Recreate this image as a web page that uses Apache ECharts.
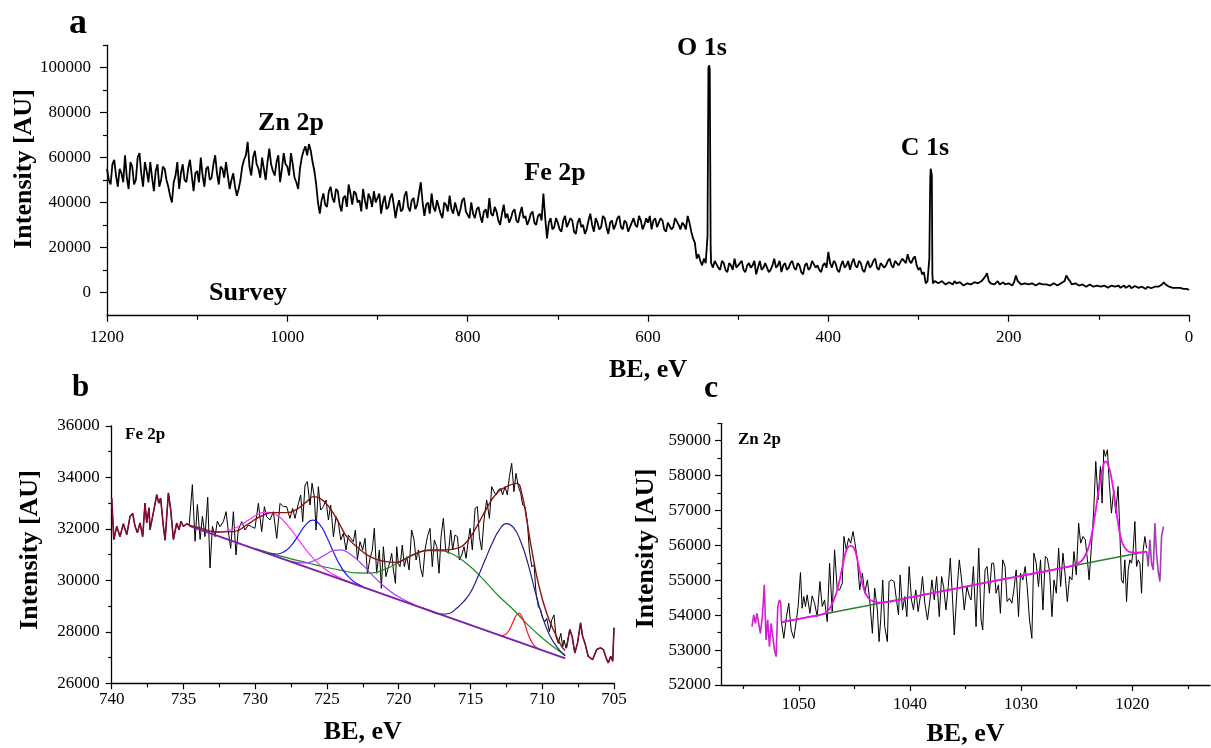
<!DOCTYPE html>
<html lang="en">
<head>
<meta charset="UTF-8">
<title>XPS spectra</title>
<script src="https://cdn.jsdelivr.net/npm/echarts@6/dist/echarts.min.js"></script>
<style>
  html, body { margin: 0; padding: 0; background: #fff; }
  #main { width: 1211px; height: 748px; }
</style>
</head>
<body>
<div id="main"></div>
<script type="text/javascript">
// ---- panel a: survey, counts in thousands, one value every 2 eV from 1200 down to 0
var surveyStartBE = 1200;
var surveyStepBE = 2;
var surveyCountsK = [
  // 1200 .. 1102
  55, 50, 48, 57, 59, 52, 47, 55, 53, 49, 61, 51, 46, 58, 56, 48, 50, 60, 62, 53,
  47, 58, 54, 49, 58, 51, 45, 54, 57, 47, 50, 56, 55, 50, 47, 43, 40, 49, 52, 58,
  46, 53, 57, 50, 49, 55, 59, 52, 45, 53,
  // 1100 .. 1002
  54, 49, 60, 52, 47, 55, 56, 50, 51, 57, 61, 53, 48, 56, 55, 51, 58, 52, 46, 50,
  53, 47, 43, 46, 50, 56, 59, 61, 67, 56, 52, 60, 63, 57, 55, 51, 60, 55, 50, 58,
  64, 57, 54, 52, 58, 61, 49, 55, 62, 57,
  // 1000 .. 902
  56, 52, 62, 57, 51, 49, 46, 55, 60, 63, 65, 61, 66, 63, 58, 54, 48, 40, 35, 41,
  44, 39, 38, 45, 47, 42, 40, 46, 45, 39, 36, 42, 43, 38, 48, 44, 39, 45, 44, 40,
  41, 36, 46, 41, 37, 44, 42, 38, 45, 40,
  // 900 .. 802
  40, 44, 35, 40, 43, 37, 38, 42, 44, 39, 33, 38, 41, 36, 37, 43, 45, 38, 36, 41,
  42, 37, 39, 44, 49, 40, 34, 39, 40, 35, 44, 38, 36, 41, 41, 35, 33, 40, 39, 36,
  43, 37, 35, 40, 40, 34, 37, 41, 42, 36,
  // 800 .. 702
  36, 33, 40, 35, 33, 37, 38, 34, 31, 36, 37, 33, 42, 35, 34, 38, 36, 32, 30, 35,
  39, 33, 35, 31, 33, 36, 37, 32, 31, 35, 38, 33, 34, 30, 32, 35, 36, 31, 30, 34,
  35, 32, 44, 33, 24, 31, 33, 28, 29, 33,
  // 700 .. 602
  31, 28, 27, 32, 34, 29, 29, 33, 32, 27, 26, 31, 33, 29, 30, 26, 28, 32, 35, 30,
  27, 33, 31, 28, 29, 34, 33, 29, 26, 31, 32, 28, 30, 33, 34, 29, 28, 32, 31, 27,
  27, 31, 33, 30, 29, 34, 32, 28, 30, 33,
  // 600 .. 502
  31, 34, 28, 32, 33, 29, 29, 33, 32, 28, 27, 31, 31, 28, 29, 33, 33, 30, 28, 31,
  30, 28, 34, 31, 27, 24, 22, 15, 17, 14, 12, 15, 13, 25, 101, 13, 11, 14, 14, 11,
  10, 14, 13, 10, 9, 13, 12, 10, 15, 11,
  // 500 .. 402
  11, 13, 14, 10, 9, 12, 13, 11, 12, 14, 8, 11, 14, 10, 11, 13, 13, 9, 10, 12,
  15, 11, 12, 14, 9, 12, 13, 10, 11, 13, 14, 11, 10, 13, 12, 9, 8, 12, 13, 10,
  11, 14, 14, 11, 12, 10, 9, 12, 13, 11,
  // 400 .. 302
  18, 13, 11, 14, 13, 10, 9, 12, 14, 11, 12, 14, 10, 13, 15, 12, 11, 14, 13, 10,
  9, 12, 14, 11, 12, 14, 15, 11, 10, 13, 13, 11, 12, 14, 15, 12, 11, 14, 14, 12,
  12, 15, 15, 13, 17, 14, 13, 15, 16, 12,
  // 300 .. 202
  10, 11, 8, 9, 4, 5, 15, 54, 4, 5, 5, 4, 3.5, 5, 4.5, 3.5, 3.5, 4.5, 4, 3.5,
  5, 4, 3.5, 4.5, 4, 3, 3, 4, 4.5, 3.5, 3.5, 4.5, 5, 4, 4, 5, 6, 7, 8.5, 5,
  4, 4.5, 3.5, 4, 5, 3.5, 4, 4.5, 3.5, 4,
  // 200 .. 102
  4, 3.5, 3, 4.5, 7.5, 5, 4.5, 3.5, 3.5, 4, 4.5, 3.5, 3, 4, 4, 3, 3.5, 4, 4.5, 3.5,
  3, 3.5, 4, 3, 3.5, 4, 4, 3, 3, 4, 4.5, 5, 7.5, 6, 5, 3.5, 3, 4, 3.5, 3,
  2.5, 3.5, 4, 2.5, 3, 3.5, 3.5, 2.5, 2.5, 3,
  // 100 .. 0
  3.5, 2.5, 2.5, 3, 3, 2, 2, 3, 3.5, 2.5, 2.5, 3, 2, 2.5, 3, 2, 2.5, 3, 1.8, 2.5,
  2.8, 2, 2, 2.8, 2.5, 1.8, 1.5, 2.5, 2.5, 1.8, 2, 2.5, 3, 2.5, 2, 3.5, 4.5, 3.5, 3.5, 2.5,
  2, 2, 2.5, 2, 1.5, 2, 2, 1.5, 1.5, 1.5, 1
];
// extra points on the narrow O 1s and C 1s lines [BE, counts in thousands]
var surveyPeakPoints = [
  [533, 100], [531.5, 99], [530.5, 20],
  [287, 50], [286.5, 55], [285.2, 52], [284.6, 8]
];

// ---- panel b: Fe 2p
var feEdgeLeft = [
  [740.0, 33200], [739.85, 31590], [739.65, 32100], [739.42, 31700], [739.19, 32200], [738.95, 31780],
  [738.72, 32490], [738.54, 32600], [738.37, 32100], [738.21, 31850], [738.03, 32230], [737.84, 31700],
  [737.68, 33000], [737.56, 32230], [737.4, 32820], [737.33, 31970], [737.1, 32620], [736.86, 33330],
  [736.72, 33000], [736.59, 33200], [736.4, 32100], [736.28, 31560], [736.05, 33400], [735.89, 32750],
  [735.7, 31590], [735.47, 32230], [735.31, 31970], [735.17, 32300], [735.01, 32100], [734.77, 32200],
  [734.6, 32150]
];
var feRaw = [
  [734.38, 33720], [734.19, 31520], [734.03, 32950], [733.84, 31590], [733.68, 32490], [733.5, 31700],
  [733.31, 33230], [733.15, 30480], [732.98, 32100], [732.8, 31700], [732.64, 32300], [732.45, 32087],
  [732.22, 32282], [732.03, 32670], [731.87, 31893], [731.71, 31245], [731.52, 32670], [731.34, 30986],
  [731.18, 31958], [730.94, 32282], [730.71, 31958], [730.48, 32152], [730.25, 32087], [730.02, 32023],
  [729.78, 32994], [729.55, 31893], [729.36, 32865], [729.2, 32476], [728.97, 32346], [728.74, 32670],
  [728.5, 31634], [728.27, 32994], [728.04, 32865], [727.81, 32865], [727.58, 32411], [727.39, 32800],
  [727.23, 32411], [726.99, 32994], [726.83, 33318], [726.69, 32282], [726.53, 33707], [726.37, 33837],
  [726.18, 32929], [726.04, 33772], [725.88, 33254], [725.76, 31958], [725.6, 33642], [725.44, 32735],
  [725.25, 32865], [725.07, 33124], [724.9, 32346], [724.74, 32929], [724.55, 31699], [724.37, 32476],
  [724.21, 32282], [724.04, 31569], [723.86, 31829], [723.67, 31181], [723.51, 31764], [723.35, 31634],
  [723.16, 31505], [723.02, 31958], [722.88, 30792], [722.7, 31505], [722.51, 31181], [722.35, 31634],
  [722.18, 30273], [722.0, 30857], [721.84, 31181], [721.7, 32023], [721.54, 30273], [721.35, 31181],
  [721.21, 29691], [721.07, 31310], [720.89, 30144], [720.72, 30533], [720.61, 30727], [720.49, 31051],
  [720.37, 30403], [720.23, 29885], [720.14, 31311], [720.03, 30662], [719.91, 30533], [719.75, 31375],
  [719.61, 30533], [719.44, 30922], [719.28, 30403], [719.1, 31958], [718.93, 31570], [718.79, 30792],
  [718.63, 31181], [718.47, 30468], [718.33, 30144], [718.17, 31181], [718.0, 31699], [717.82, 32023],
  [717.66, 30533], [717.52, 31570], [717.35, 31311], [717.19, 30274], [717.05, 31699], [716.89, 32411],
  [716.73, 31181], [716.54, 31051], [716.38, 31958], [716.24, 31181], [716.08, 31764], [715.91, 31699],
  [715.77, 30792], [715.61, 30986], [715.45, 31311], [715.31, 30857], [715.15, 31570], [715.03, 32023],
  [714.87, 31181], [714.68, 32800], [714.52, 32865], [714.38, 31699], [714.22, 31181], [714.06, 32346],
  [713.87, 33124], [713.68, 32411], [713.52, 33642], [713.36, 33448], [713.22, 33318], [713.06, 33513],
  [712.89, 33577], [712.76, 33318], [712.59, 33642], [712.43, 33318], [712.29, 34031], [712.13, 34549],
  [711.97, 33448], [711.83, 34160], [711.66, 33642], [711.5, 33383], [711.36, 32929], [711.2, 32865],
  [711.04, 32282], [710.9, 31181], [710.73, 30533], [710.57, 30598], [710.43, 29497], [710.27, 28978],
  [710.11, 28849], [709.97, 28525], [709.81, 28395], [709.69, 28525], [709.5, 28007], [709.34, 28460],
  [709.18, 28655], [709.04, 27812], [708.88, 27553], [708.71, 27942], [708.57, 27424], [708.48, 27683],
  [708.34, 27359]
];
var feEdgeRight = [
  [708.3, 27400], [708.08, 28090], [707.92, 27830], [707.73, 27180], [707.54, 27570], [707.33, 28350],
  [707.19, 27830], [707.03, 27570], [706.8, 27050], [706.49, 26920], [706.21, 27310], [705.93, 27380],
  [705.74, 27310], [705.55, 26990], [705.4, 26790], [705.23, 27050], [705.09, 26860], [705.0, 28160]
];
var feBaseline = [[734.6, 32120], [708.4, 26970]];
var feEnvelope = [
  [734.6, 32150], [733.84, 32040], [732.68, 31880], [731.52, 31893], [730.6, 32152], [729.67, 32476],
  [728.74, 32632], [727.81, 32632], [727.11, 32761], [726.41, 33059], [725.95, 33254], [725.48, 33189],
  [724.79, 32800], [724.09, 32152], [723.63, 31699], [722.93, 31310], [722.0, 30922], [721.0, 30740],
  [720.2, 30700], [719.68, 30792], [718.75, 31051], [717.82, 31181], [716.89, 31181], [715.96, 31245],
  [715.26, 31505], [714.57, 32088], [713.87, 32800], [713.17, 33383], [712.48, 33642], [711.78, 33772],
  [711.43, 33383], [711.08, 32347], [710.73, 31181], [710.27, 29885], [709.69, 28719], [709.11, 27942],
  [708.64, 27424], [708.4, 27280]
];
var fePeakMagenta = [
  [733.0, 31896], [732.5, 31881], [732.0, 31915], [731.5, 32008], [731.0, 32155], [730.5, 32336],
  [730.0, 32510], [729.5, 32630], [729.0, 32647], [728.5, 32536], [728.0, 32299], [727.5, 31969],
  [727.0, 31591], [726.5, 31218], [726.0, 30885], [725.5, 30608], [725.0, 30387], [724.5, 30214],
  [724.0, 30074], [723.5, 29955], [723.0, 29845]
];
var fePeakBlue = [
  [729.0, 31050], [728.5, 31026], [728.0, 31108], [727.5, 31351], [727.0, 31743], [726.5, 32147],
  [726.0, 32341], [725.5, 32166], [725.0, 31664], [724.5, 31043], [724.0, 30505], [723.5, 30135],
  [723.0, 29906], [722.5, 29760]
];
var fePeakViolet = [
  [727.5, 30749], [727.0, 30692], [726.5, 30683], [726.0, 30741], [725.5, 30870], [725.0, 31036],
  [724.5, 31168], [724.0, 31182], [723.5, 31060], [723.0, 30854], [722.5, 30591], [722.0, 30302],
  [721.5, 30018], [721.0, 29760], [720.5, 29541], [720.0, 29360], [719.5, 29210], [719.0, 29081]
];
var fePeakGreen = [
  [730.0, 31234], [729.0, 31068], [728.0, 30912], [727.0, 30765], [726.0, 30629], [725.0, 30502],
  [724.0, 30386], [723.0, 30289], [722.0, 30283], [721.0, 30426], [720.0, 30700], [719.0, 31003],
  [718.0, 31156], [717.0, 31150], [716.5, 31082], [716.0, 30943], [715.0, 30527], [714.0, 29970],
  [713.0, 29373], [712.0, 28857], [711.0, 28270], [710.0, 27763], [709.0, 27327], [708.4, 27110]
];
var fePeakNavy = [
  [719.0, 29053], [718.0, 28856], [717.0, 28690], [716.5, 28712], [716.0, 28903], [715.5, 29165],
  [715.0, 29527], [714.5, 30119], [714.0, 30770], [713.5, 31422], [713.0, 31953], [712.5, 32205],
  [712.0, 32047], [711.5, 31508], [711.0, 30660], [710.5, 29582], [710.0, 28613], [709.5, 27885],
  [709.0, 27427], [708.4, 27060]
];
var fePeakRed = [
  [712.9, 27854], [712.6, 27890], [712.3, 28070], [712.0, 28432], [711.8, 28652], [711.6, 28718],
  [711.4, 28573], [711.2, 28274], [710.9, 27794], [710.6, 27496], [710.3, 27352]
];

// ---- panel c: Zn 2p
var znRaw = [
  [1051.56, 53800], [1051.35, 53339], [1051.11, 53960], [1050.9, 54343], [1050.69, 53578], [1050.45, 53339],
  [1050.21, 53865], [1050.06, 54247], [1049.85, 55223], [1049.7, 54200], [1049.55, 54534], [1049.4, 54247],
  [1049.25, 54582], [1049.0, 54056], [1048.8, 54553], [1048.58, 54343], [1048.34, 53960], [1048.1, 54965],
  [1047.89, 54247], [1047.68, 54439], [1047.44, 53817], [1047.23, 55490], [1046.99, 54104], [1046.78, 55873],
  [1046.54, 54726], [1046.33, 54726], [1046.09, 54917], [1045.94, 56256], [1045.73, 55873], [1045.52, 56208],
  [1045.33, 56064], [1045.12, 56399], [1044.94, 56064], [1044.73, 55586], [1044.52, 54726], [1044.28, 55204],
  [1044.07, 54630], [1043.83, 55012], [1043.62, 54439], [1043.38, 53482], [1043.17, 54774], [1042.93, 54152],
  [1042.78, 53243], [1042.63, 53865], [1042.45, 55012], [1042.27, 53673], [1042.03, 53243], [1041.88, 54965],
  [1041.66, 55012], [1041.42, 54965], [1041.21, 54439], [1041.03, 54008], [1040.88, 55156], [1040.67, 54152],
  [1040.46, 54534], [1040.28, 53960], [1040.07, 55395], [1039.86, 54439], [1039.68, 54152], [1039.47, 54726],
  [1039.26, 54104], [1039.02, 54630], [1038.87, 55108], [1038.66, 54343], [1038.42, 53865], [1038.2, 54439],
  [1038.02, 55012], [1037.81, 54439], [1037.6, 55108], [1037.36, 53960], [1037.15, 55108], [1036.97, 54821],
  [1036.76, 54152], [1036.55, 54821], [1036.37, 55634], [1036.16, 54439], [1036.01, 53434], [1035.77, 54678],
  [1035.56, 55586], [1035.35, 55012], [1035.11, 54152], [1034.87, 54821], [1034.65, 54534], [1034.5, 54438],
  [1034.29, 55395], [1034.05, 53673], [1033.81, 55921], [1033.6, 53864], [1033.45, 53578], [1033.24, 55299],
  [1033.06, 55395], [1032.85, 54630], [1032.64, 55490], [1032.46, 55490], [1032.25, 54630], [1032.04, 54869],
  [1031.86, 54056], [1031.65, 55586], [1031.44, 55395], [1031.26, 54391], [1031.04, 54486], [1030.83, 54343],
  [1030.65, 54725], [1030.44, 55299], [1030.23, 53960], [1030.05, 55203], [1029.84, 55012], [1029.63, 55395],
  [1029.45, 54821], [1029.24, 53864], [1029.03, 53338], [1028.85, 55777], [1028.64, 55490], [1028.43, 54821],
  [1028.25, 55586], [1028.03, 54152], [1027.82, 55682], [1027.64, 55634], [1027.43, 55251], [1027.22, 53960],
  [1027.04, 55012], [1026.83, 54630], [1026.62, 55921], [1026.44, 54821], [1026.23, 55777], [1026.02, 55108],
  [1025.84, 54391], [1025.63, 55108], [1025.42, 55012], [1025.24, 55825], [1025.03, 55155], [1024.82, 56638],
  [1024.64, 56064], [1024.43, 56255], [1024.22, 56160], [1024.03, 55586], [1023.88, 55012], [1023.67, 55968],
  [1023.46, 57020], [1023.28, 58407], [1023.07, 57307], [1022.86, 58263], [1022.71, 57212], [1022.56, 58742],
  [1022.41, 58551], [1022.23, 58742], [1022.08, 57881], [1021.87, 56925], [1021.66, 57594], [1021.48, 56925],
  [1021.27, 57690], [1021.12, 56447], [1020.97, 55012], [1020.81, 54917], [1020.66, 55586], [1020.51, 54391],
  [1020.36, 55299], [1020.21, 55586], [1020.06, 55490], [1019.91, 55873], [1019.76, 56686], [1019.61, 55395],
  [1019.46, 55586], [1019.31, 55490], [1019.16, 54630], [1019.01, 55873], [1018.86, 56255], [1018.71, 55921]
];
var znEdgeLeft = [
  [1054.21, 53673], [1054.06, 54008], [1053.91, 53769], [1053.76, 54056], [1053.61, 54104], [1053.46, 53482],
  [1053.28, 53960], [1053.1, 54869], [1052.95, 53291], [1052.8, 53865], [1052.64, 53100], [1052.49, 53769],
  [1052.34, 53387], [1052.19, 53004], [1052.04, 52813], [1051.89, 54247], [1051.74, 54439], [1051.62, 54343],
  [1051.56, 53800]
];
var znEdgeRight = [
  [1018.7, 55825], [1018.56, 55395], [1018.41, 56160], [1018.26, 55490], [1018.11, 55299], [1017.96, 56638],
  [1017.81, 55777], [1017.66, 55251], [1017.51, 54964], [1017.36, 56255], [1017.18, 56542]
];
var znBaseline = [[1051.56, 53800], [1018.7, 55825]];
var znFit = [
  [1051.56, 53800], [1049.5, 53927], [1048.0, 54020], [1047.44, 54104], [1046.84, 54439], [1046.39, 54917],
  [1045.94, 55586], [1045.63, 55921], [1045.33, 55988], [1045.03, 55921], [1044.73, 55586], [1044.28, 54917],
  [1043.83, 54534], [1043.23, 54391], [1042.63, 54362], [1040.0, 54512], [1035.0, 54820], [1030.0, 55128],
  [1026.0, 55374], [1024.88, 55490], [1024.28, 55682], [1023.82, 56064], [1023.37, 56829], [1022.92, 57786],
  [1022.62, 58264], [1022.4, 58407], [1022.17, 58311], [1021.87, 57929], [1021.57, 57307], [1021.27, 56638],
  [1020.97, 56160], [1020.51, 55873], [1019.76, 55796], [1018.7, 55825]
];

// ---- tick values
var surveyMajorY = [0, 20000, 40000, 60000, 80000, 100000];
var surveyMinorY = [10000, 30000, 50000, 70000, 90000, 110000];
var znMajorY = [52000, 53000, 54000, 55000, 56000, 57000, 58000, 59000];
var znMinorY = [52500, 53500, 54500, 55500, 56500, 57500, 58500, 59500];
var znLabelX = [1020, 1030, 1040, 1050];
var znMinorX = [1015, 1025, 1035, 1045, 1055];

var FONT = '"Liberation Serif", "Times New Roman", serif';

function makeAxis(o) {
    return {
        type: 'value',
        gridIndex: o.grid,
        position: o.position,
        min: o.min,
        max: o.max,
        interval: o.interval,
        inverse: !!o.inverse,
        splitLine: { show: false },
        axisLine: { show: o.line !== false, onZero: false, lineStyle: { color: '#000', width: 1.3 } },
        axisTick: {
            show: true, inside: false, length: o.tick || 6, customValues: o.tickValues,
            lineStyle: { color: '#000', width: 1.2 }
        },
        minorTick: { show: !!o.minor, splitNumber: 2, length: o.minor || 4, lineStyle: { color: '#000', width: 1.2 } },
        axisLabel: {
            show: o.labels !== false, margin: o.margin || 8, customValues: o.labelValues,
            formatter: o.formatter || function (v) { return String(v); },
            color: '#000', fontFamily: FONT, fontSize: 17
        },
        name: o.name || '',
        nameLocation: 'middle',
        nameGap: o.nameGap || 30,
        nameTextStyle: { color: '#000', fontFamily: FONT, fontSize: 26, fontWeight: 'bold' }
    };
}

function line(data, xi, yi, color, width, smooth) {
    return {
        type: 'line', data: data, xAxisIndex: xi, yAxisIndex: yi,
        showSymbol: false, symbol: 'none', smooth: smooth || false, silent: true,
        lineStyle: { color: color, width: width }
    };
}

function label(text, x, y, size, align, rot) {
    return {
        type: 'text', x: x, y: y, rotation: rot || 0, silent: true,
        style: {
            text: text, font: 'bold ' + size + 'px ' + FONT, fill: '#000',
            align: align || 'center', verticalAlign: 'middle',
            textAlign: align || 'center', textVerticalAlign: 'middle'
        }
    };
}

var surveyData = surveyCountsK.map(function (v, i) {
    return [surveyStartBE - i * surveyStepBE, v * 1000];
}).concat(surveyPeakPoints.map(function (p) {
    return [p[0], p[1] * 1000];
})).sort(function (a, b) { return b[0] - a[0]; });

var myChart = echarts.init(document.getElementById('main'), null, { renderer: 'canvas' });
var option = {
    animation: false,
    backgroundColor: '#fff',
    grid: [
        { left: 107, top: 45.2, width: 1082, height: 269.6 },
        { left: 111.7, top: 426, width: 502.3, height: 257.3 },
        { left: 721, top: 423.3, width: 489, height: 261.7 }
    ],
    xAxis: [
        makeAxis({ grid: 0, position: 'bottom', min: 0, max: 1200, interval: 200, inverse: true, tick: 7, minor: 5,
                   margin: 14, name: 'BE, eV', nameGap: 42 }),
        makeAxis({ grid: 1, position: 'bottom', min: 705, max: 740, interval: 5, inverse: true, tick: 6, minor: 4,
                   margin: 8, name: 'BE, eV', nameGap: 36 }),
        makeAxis({ grid: 2, position: 'bottom', min: 1013, max: 1057, interval: 5, inverse: true, tick: 6,
                   tickValues: znLabelX, labelValues: znLabelX, margin: 11, name: 'BE, eV', nameGap: 36 }),
        makeAxis({ grid: 2, position: 'bottom', min: 1013, max: 1057, interval: 5, inverse: true, tick: 4,
                   tickValues: znMinorX, line: false, labels: false })
    ],
    yAxis: [
        makeAxis({ grid: 0, position: 'left', min: -10000, max: 110000, interval: 10000, tick: 7, margin: 16,
                   tickValues: surveyMajorY, labelValues: surveyMajorY,
                   formatter: function (v) { return (v >= 0 && v % 20000 === 0) ? String(v) : ''; } }),
        makeAxis({ grid: 0, position: 'left', min: -10000, max: 110000, interval: 10000, tick: 4,
                   tickValues: surveyMinorY, line: false, labels: false }),
        makeAxis({ grid: 1, position: 'left', min: 26000, max: 36000, interval: 2000, tick: 6, minor: 3.5, margin: 12 }),
        makeAxis({ grid: 2, position: 'left', min: 52000, max: 59500, interval: 500, tick: 6, margin: 10,
                   tickValues: znMajorY, labelValues: znMajorY,
                   formatter: function (v) { return v % 1000 === 0 ? String(v) : ''; } }),
        makeAxis({ grid: 2, position: 'left', min: 52000, max: 59500, interval: 500, tick: 3.5,
                   tickValues: znMinorY, line: false, labels: false })
    ],
    series: [
        line(surveyData, 0, 0, '#000', 1.8),

        line(feEdgeLeft.concat(feRaw, feEdgeRight), 1, 2, '#000', 1),
        line(fePeakGreen, 1, 2, '#1a8a1a', 1.2, true),
        line(fePeakMagenta, 1, 2, '#ff33ff', 1.2, true),
        line(fePeakBlue, 1, 2, '#1a1aff', 1.2, true),
        line(fePeakViolet, 1, 2, '#a040ff', 1.2, true),
        line(fePeakNavy, 1, 2, '#20208f', 1.2, true),
        line(fePeakRed, 1, 2, '#ff1a1a', 1.2, true),
        line(feBaseline, 1, 2, '#7a1fa8', 2),
        line(feEnvelope, 1, 2, '#8b1010', 1.4, true),
        line(feEdgeLeft, 1, 2, '#820c30', 1.6),
        line(feEdgeRight, 1, 2, '#820c30', 1.6),

        line(znRaw, 2, 3, '#000', 1),
        line(znBaseline, 2, 3, '#2f7d32', 1.5),
        line(znFit, 2, 3, '#ee11ee', 1.8, true),
        line(znEdgeLeft, 2, 3, '#d21fd2', 1.6),
        line(znEdgeRight, 2, 3, '#a43cb4', 1.6)
    ],
    graphic: [
        label('a', 78, 24, 36),
        label('b', 80.5, 387.5, 31),
        label('c', 711, 389, 32),
        label('Zn 2p', 291, 123, 26),
        label('Fe 2p', 555, 173, 26),
        label('O 1s', 702, 48.5, 26),
        label('C 1s', 925, 148, 26),
        label('Survey', 248, 293, 26),
        label('Fe 2p', 125, 435, 17, 'left'),
        label('Zn 2p', 738, 440, 17, 'left'),
        label('Intensity [AU]', 24, 169, 26, 'center', Math.PI / 2),
        label('Intensity [AU]', 30, 550, 26, 'center', Math.PI / 2),
        label('Intensity [AU]', 646, 548.5, 26, 'center', Math.PI / 2)
    ]
};
myChart.setOption(option);
</script>
</body>
</html>
